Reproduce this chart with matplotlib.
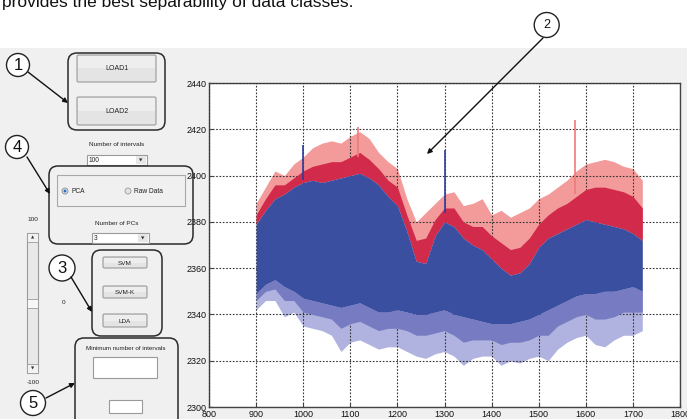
import numpy as np
import matplotlib
matplotlib.use("Agg")
import matplotlib.pyplot as plt
from matplotlib.patches import FancyBboxPatch, Rectangle, Circle

# ---------------- data ----------------
wavenumber = [900, 920, 940, 960, 980, 1000, 1020, 1040, 1060, 1080, 1100,
              1120, 1140, 1160, 1180, 1200, 1220, 1240, 1260, 1280, 1300,
              1320, 1340, 1360, 1380, 1400, 1420, 1440, 1460, 1480, 1500,
              1520, 1540, 1560, 1580, 1600, 1620, 1640, 1660, 1680, 1700, 1720]
red_top = [2388, 2395, 2402, 2400, 2405, 2408, 2412, 2414, 2415, 2414, 2417,
           2419, 2416, 2410, 2406, 2403, 2390, 2380, 2384, 2388, 2392,
           2393, 2387, 2388, 2390, 2383, 2385, 2382, 2384, 2386, 2390,
           2392, 2395, 2398, 2402, 2405, 2406, 2407, 2406, 2404, 2403, 2398]
red_mid = [2383, 2390, 2396, 2396, 2399, 2402, 2404, 2405, 2406, 2406, 2408,
           2410, 2407, 2403, 2398, 2395, 2383, 2372, 2373, 2381, 2386,
           2386, 2380, 2378, 2378, 2374, 2371, 2368, 2369, 2373, 2379,
           2383, 2386, 2388, 2391, 2394, 2395, 2395, 2394, 2393, 2391, 2386]
core_top = [2379, 2385, 2390, 2392, 2395, 2397, 2398, 2397, 2398, 2399, 2400,
            2401, 2399, 2396, 2391, 2387, 2376, 2363, 2362, 2374, 2380,
            2378, 2373, 2370, 2368, 2364, 2360, 2357, 2358, 2362, 2369,
            2373, 2375, 2377, 2379, 2381, 2380, 2379, 2378, 2377, 2375, 2372]
core_bot = [2349, 2353, 2355, 2352, 2350, 2347, 2346, 2345, 2344, 2343, 2344,
            2345, 2343, 2341, 2341, 2342, 2341, 2340, 2340, 2341, 2342,
            2340, 2339, 2338, 2337, 2336, 2336, 2336, 2337, 2338, 2340,
            2342, 2344, 2346, 2348, 2349, 2349, 2350, 2350, 2351, 2352, 2350]
low_mid = [2346, 2350, 2351, 2346, 2346, 2341, 2340, 2339, 2338, 2334, 2336,
           2337, 2335, 2333, 2334, 2334, 2333, 2331, 2331, 2332, 2333,
           2331, 2328, 2329, 2329, 2329, 2327, 2328, 2328, 2329, 2331,
           2331, 2335, 2337, 2339, 2340, 2338, 2338, 2339, 2341, 2341, 2341]
low_tip = [2342, 2346, 2346, 2339, 2341, 2335, 2334, 2333, 2331, 2324, 2328,
           2329, 2327, 2325, 2326, 2326, 2324, 2322, 2321, 2323, 2324,
           2322, 2318, 2321, 2322, 2322, 2318, 2320, 2319, 2321, 2322,
           2320, 2325, 2328, 2330, 2331, 2327, 2326, 2329, 2331, 2331, 2333]
spike_x = [1000, 1116, 1300, 1578]
spike_base = [2398, 2408, 2384, 2392]
spike_top = [2413, 2421, 2411, 2424]

x_ticks = [800, 900, 1000, 1100, 1200, 1300, 1400, 1500, 1600, 1700, 1800]
y_ticks = [2300, 2320, 2340, 2360, 2380, 2400, 2420, 2440]

W, H = 687, 419
fig = plt.figure(figsize=(W / 100, H / 100), dpi=100, facecolor="white")

# background layer (GUI panel)
bg = fig.add_axes([0, 0, 1, 1], zorder=0)
bg.set_xlim(0, W); bg.set_ylim(H, 0); bg.axis("off")
bg.add_patch(Rectangle((0, 48), W, H - 48, facecolor="#eff0ef", edgecolor="none"))
bg.text(2, 7.5, "provides the best separability of data classes.", fontsize=12.5,
        family="Liberation Sans", va="baseline", ha="left", color="#111")

# ---------------- main plot ----------------
ax = fig.add_axes([209 / W, 1 - 407 / H, 471 / W, 324 / H], zorder=1)
ax.set_facecolor("white")
xs = np.array(wavenumber)
ax.fill_between(xs, core_top, red_top, color="#f39a9a", lw=0, zorder=2)
ax.fill_between(xs, core_top, red_mid, color="#d22a4a", lw=0, zorder=3)
ax.fill_between(xs, low_tip, core_bot, color="#b0b3df", lw=0, zorder=2)
ax.fill_between(xs, low_mid, core_bot, color="#777cc2", lw=0, zorder=3)
ax.fill_between(xs, core_bot, core_top, color="#3b4fa1", lw=0, zorder=4)
for sx, sb, st, c in zip(spike_x, spike_base, spike_top,
                         ["#2c3d9a", "#f07a7a", "#2c3d9a", "#f07a7a"]):
    ax.vlines(sx, sb, st, color=c, lw=1.2, zorder=5)

ax.set_xlim(800, 1800)
ax.set_ylim(2300, 2440)
ax.set_xticks(x_ticks)
ax.set_yticks(y_ticks)
ax.grid(True, color="#333", lw=0.8, ls=(0, (1.5, 1.5)), zorder=6)
ax.set_axisbelow(False)
for s in ax.spines.values():
    s.set_color("#444"); s.set_linewidth(1)
ax.tick_params(direction="in", length=3, width=0.8, color="#444", labelsize=6.5,
               labelcolor="#111", pad=2)
for lab in ax.get_xticklabels() + ax.get_yticklabels():
    lab.set_family("Liberation Sans")

# ---------------- foreground GUI layer ----------------
fg = fig.add_axes([0, 0, 1, 1], zorder=2)
fg.set_xlim(0, W); fg.set_ylim(H, 0); fg.axis("off")
fg.patch.set_alpha(0)

def rbox(x0, y0, x1, y1, r=9):
    fg.add_patch(FancyBboxPatch((x0, y0), x1 - x0, y1 - y0,
                                boxstyle=f"round,pad=0,rounding_size={r}",
                                facecolor="none", edgecolor="#2a2a2a", lw=1.1))

def button(x0, y0, x1, y1, label, fs=5):
    fg.add_patch(FancyBboxPatch((x0, y0), x1 - x0, y1 - y0,
                                boxstyle="round,pad=0,rounding_size=1.5",
                                facecolor="#e4e4e4", edgecolor="#9a9a9a", lw=0.8))
    fg.add_patch(Rectangle((x0 + 1, y0 + 1), x1 - x0 - 2, (y1 - y0) / 2 - 1,
                           facecolor="#eeeeee", edgecolor="none"))
    fg.text((x0 + x1) / 2, (y0 + y1) / 2 + 0.5, label, fontsize=fs,
            family="Liberation Sans", ha="center", va="center", color="#222")

def dropdown(x0, y0, x1, y1, label):
    fg.add_patch(Rectangle((x0, y0), x1 - x0, y1 - y0, facecolor="white",
                           edgecolor="#9a9a9a", lw=0.8))
    fg.add_patch(Rectangle((x1 - 11, y0 + 1), 10, y1 - y0 - 2, facecolor="#e6e6e6",
                           edgecolor="none"))
    fg.text(x0 + 2, (y0 + y1) / 2 + 0.5, label, fontsize=4.8, family="Liberation Sans",
            ha="left", va="center", color="#222")
    fg.text(x1 - 6, (y0 + y1) / 2, "\u25BC", fontsize=3.2, family="DejaVu Sans",
            ha="center", va="center", color="#333")

def label(x, y, s, fs=4.6, ha="center"):
    fg.text(x, y, s, fontsize=fs, family="Liberation Sans", ha=ha, va="center",
            color="#222")

def num_circle(cx, cy, r, s, fs):
    fg.add_patch(Circle((cx, cy), r, facecolor="white", edgecolor="#222", lw=1))
    fg.text(cx, cy + 0.5, s, fontsize=fs, family="Liberation Sans", ha="center",
            va="center", color="#111")

def arrow(x0, y0, x1, y1):
    fg.annotate("", xy=(x1, y1), xytext=(x0, y0),
                arrowprops=dict(arrowstyle="-|>", color="#111", lw=1,
                                mutation_scale=7, shrinkA=0, shrinkB=0))

# group 1
rbox(68, 53, 165, 130)
button(77, 55, 156, 82, "LOAD1", 5)
button(77, 97, 156, 125, "LOAD2", 5)
label(117, 144, "Number of intervals")
dropdown(87, 155, 147, 165, "100")

# group 4
rbox(49, 166, 193, 244)
fg.add_patch(Rectangle((57, 175), 128, 31, facecolor="none", edgecolor="#a8a8a8", lw=0.8))
fg.add_patch(Circle((65, 191), 3, facecolor="#dfe6ee", edgecolor="#8a8a8a", lw=0.6))
fg.add_patch(Circle((65, 191), 1.5, facecolor="#2f6fc0", edgecolor="none"))
label(71, 191, "PCA", 4.8, "left")
fg.add_patch(Circle((128, 191), 3, facecolor="#e2e2e2", edgecolor="#9a9a9a", lw=0.6))
label(134, 191, "Raw Data", 4.8, "left")
label(117, 223, "Number of PCs")
dropdown(92, 233, 149, 243, "3")

# group 3
rbox(92, 250, 162, 336)
button(103, 257, 147, 268, "SVM", 4.6)
button(103, 286, 147, 298, "SVM-K", 4.6)
button(103, 314, 147, 327, "LDA", 4.6)

# group 5
rbox(75, 338, 178, 430)
label(126, 348, "Minimum number of intervals", 4.5)
fg.add_patch(Rectangle((93, 357), 64, 21, facecolor="white", edgecolor="#9a9a9a", lw=0.8))
fg.add_patch(Rectangle((109, 400), 33, 13, facecolor="white", edgecolor="#9a9a9a", lw=0.8))

# slider
fg.add_patch(Rectangle((27, 233), 11, 140, facecolor="#e9e9e9", edgecolor="#9a9a9a", lw=0.8))
fg.add_patch(Rectangle((27, 233), 11, 9, facecolor="#f2f2f2", edgecolor="#9a9a9a", lw=0.6))
fg.add_patch(Rectangle((27, 364), 11, 9, facecolor="#f2f2f2", edgecolor="#9a9a9a", lw=0.6))
fg.add_patch(Rectangle((27, 299), 11, 9, facecolor="#f7f7f7", edgecolor="#9a9a9a", lw=0.6))
fg.text(32.5, 237.5, "\u25B2", fontsize=3, family="DejaVu Sans", ha="center", va="center", color="#333")
fg.text(32.5, 368.5, "\u25BC", fontsize=3, family="DejaVu Sans", ha="center", va="center", color="#333")
label(33, 219, "100")
label(64, 302, "0")
label(33, 382, "-100")

# numbered callouts
arrow(28, 72, 68, 103)
arrow(27, 157, 50, 194)
arrow(71, 277, 92, 312)
arrow(46, 398, 75, 383)
arrow(543, 38, 427, 154)
num_circle(18, 65, 11.5, "1", 12)
num_circle(17, 147, 11.5, "4", 12)
num_circle(62, 268, 13, "3", 12)
num_circle(33, 403, 12.5, "5", 12)
num_circle(546.7, 25, 12.5, "2", 9)

fig.savefig("out.png", dpi=100, facecolor="white")
